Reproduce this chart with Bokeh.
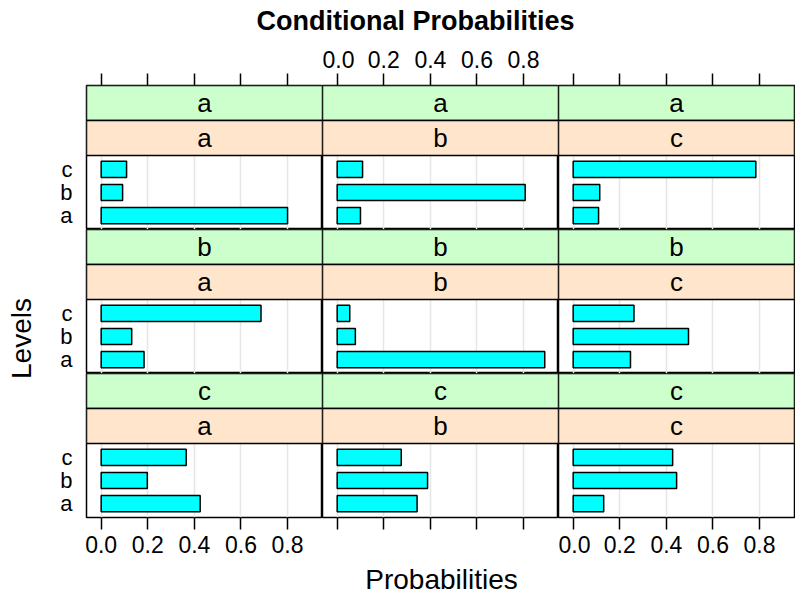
import math
from bokeh.plotting import figure
from bokeh.models import Range1d, LinearAxis, FixedTicker, Grid, NumeralTickFormatter, CustomJSTickFormatter
from bokeh.layouts import column, row
from bokeh.core.properties import value
from bokeh.embed import file_html
from bokeh.resources import INLINE

# ---------------- data ----------------
levels = ["a", "b", "c"]            # y categories inside each panel (bottom to top)
outer_groups = ["a", "b", "c"]      # green strips (rows, top to bottom)
inner_groups = ["a", "b", "c"]      # peach strips (columns, left to right)
x_ticks = [0.0, 0.2, 0.4, 0.6, 0.8]

# probabilities of levels a, b, c for each (outer, inner) combination
prob_a_a = [0.800, 0.092, 0.109]
prob_a_b = [0.100, 0.807, 0.109]
prob_a_c = [0.109, 0.114, 0.784]
prob_b_a = [0.184, 0.131, 0.686]
prob_b_b = [0.891, 0.078, 0.054]
prob_b_c = [0.246, 0.495, 0.261]
prob_c_a = [0.425, 0.198, 0.365]
prob_c_b = [0.343, 0.388, 0.275]
prob_c_c = [0.131, 0.444, 0.427]

table = [
    [prob_a_a, prob_a_b, prob_a_c],
    [prob_b_a, prob_b_b, prob_b_c],
    [prob_c_a, prob_c_b, prob_c_c],
]

# ---------------- style / layout ----------------
FONT = "Liberation Sans"
GREEN = "#CCFFCC"
PEACH = "#FFE5CC"
BAR = "#00FFFF"
GRID = "#E6E6E6"

X_START, X_END = -0.063, 0.95
Y_START, Y_PANEL_END = 0.4, 3.6
FRAME_W, FRAME_H = 236, 144
STRIP_PX = 35.0
PANEL_PX = FRAME_H - 2 * STRIP_PX
unit_px = PANEL_PX / (Y_PANEL_END - Y_START)
strip_u = STRIP_PX / unit_px
Y_END = Y_PANEL_END + 2 * strip_u

LEFT_B, RIGHT_B, TOP_B, BOT_B = 46, 1, 47, 46
TITLE_H, XLAB_H, YLAB_W = 38, 32, 40
TOTAL_W = YLAB_W + LEFT_B + 3 * FRAME_W + RIGHT_B

label_fmt = NumeralTickFormatter(format="0.0")


def blank_fmt():
    return CustomJSTickFormatter(code="return ''")


def style_x_axis(ax):
    ax.axis_line_color = None
    ax.major_tick_line_color = "black"
    ax.major_tick_line_width = 1.5
    ax.major_tick_in = 0
    ax.major_tick_out = 12
    ax.minor_tick_line_color = None
    ax.major_label_text_font = FONT
    ax.major_label_text_font_size = "23px"
    ax.major_label_text_color = "black"
    ax.major_label_standoff = 6


def make_panel(r, c):
    ml = LEFT_B if c == 0 else 0
    mr = RIGHT_B if c == 2 else 0
    mt = TOP_B if r == 0 else 0
    mb = BOT_B if r == 2 else 0
    p = figure(width=FRAME_W + ml + mr, height=FRAME_H + mt + mb,
               x_range=Range1d(X_START, X_END), y_range=Range1d(Y_START, Y_END),
               x_axis_location=None, y_axis_location=None,
               toolbar_location=None, output_backend="svg",
               min_border_left=ml, min_border_right=mr,
               min_border_top=mt, min_border_bottom=mb)
    p.grid.visible = False
    p.outline_line_color = "black"
    p.outline_line_width = 1.5
    p.background_fill_color = "white"
    p.border_fill_color = "white"

    p.add_layout(Grid(dimension=0, ticker=FixedTicker(ticks=x_ticks),
                      grid_line_color=GRID, grid_line_width=1.5))

    if r == 0:
        ax = LinearAxis(ticker=FixedTicker(ticks=x_ticks),
                        formatter=label_fmt if c == 1 else blank_fmt())
        style_x_axis(ax)
        p.add_layout(ax, "above")
    if r == 2:
        ax = LinearAxis(ticker=FixedTicker(ticks=x_ticks),
                        formatter=label_fmt if c != 1 else blank_fmt())
        style_x_axis(ax)
        p.add_layout(ax, "below")
    if c == 0:
        ay = LinearAxis(ticker=FixedTicker(ticks=[1, 2, 3]),
                        major_label_overrides={i + 1: lv for i, lv in enumerate(levels)})
        ay.axis_line_color = None
        ay.major_tick_line_color = None
        ay.minor_tick_line_color = None
        ay.major_tick_in = 0
        ay.major_tick_out = 0
        ay.major_label_standoff = 14
        ay.major_label_text_font = FONT
        ay.major_label_text_font_size = "22px"
        ay.major_label_text_color = "black"
        p.add_layout(ay, "left")

    # strips
    xc = (X_START + X_END) / 2
    p.quad(left=[X_START], right=[X_END], bottom=[Y_PANEL_END + strip_u], top=[Y_END],
           fill_color=GREEN, line_color="black", line_width=1.5)
    p.quad(left=[X_START], right=[X_END], bottom=[Y_PANEL_END], top=[Y_PANEL_END + strip_u],
           fill_color=PEACH, line_color="black", line_width=1.5)
    p.text(x=[xc], y=[Y_PANEL_END + 1.5 * strip_u], text=[outer_groups[r]],
           text_font=value(FONT), text_font_size="26px", text_align="center",
           text_baseline="middle", text_color="black")
    p.text(x=[xc], y=[Y_PANEL_END + 0.5 * strip_u], text=[inner_groups[c]],
           text_font=value(FONT), text_font_size="26px", text_align="center",
           text_baseline="middle", text_color="black")

    # bars
    vals = table[r][c]
    p.hbar(y=[i + 1 for i in range(len(levels))], left=0, right=vals, height=0.7,
           fill_color=BAR, line_color="black", line_width=1.5)
    return p


rows = []
for r in range(3):
    rows.append(row(*[make_panel(r, c) for c in range(3)]))
panels = column(*rows)

COL2_CENTER = YLAB_W + LEFT_B + 1.5 * FRAME_W

# title
tf = figure(width=TOTAL_W, height=TITLE_H, x_range=Range1d(0, TOTAL_W), y_range=Range1d(0, TITLE_H),
            toolbar_location=None, output_backend="svg", min_border=0,
            x_axis_location=None, y_axis_location=None)
tf.grid.visible = False
tf.outline_line_color = None
tf.text(x=[COL2_CENTER - 25], y=[TITLE_H / 2 - 1], text=["Conditional Probabilities"],
        text_font=value(FONT), text_font_style="bold", text_font_size="27px",
        text_align="center", text_baseline="middle", text_color="black")

# y label
YLAB_H = TOP_B + 3 * FRAME_H + BOT_B
yf = figure(width=YLAB_W, height=YLAB_H, x_range=Range1d(0, YLAB_W), y_range=Range1d(0, YLAB_H),
            toolbar_location=None, output_backend="svg", min_border=0,
            x_axis_location=None, y_axis_location=None)
yf.grid.visible = False
yf.outline_line_color = None
yf.text(x=[YLAB_W / 2 + 1], y=[YLAB_H - (338 - TITLE_H)], text=["Levels"], angle=math.pi / 2,
        text_font=value(FONT), text_font_size="28px",
        text_align="center", text_baseline="middle", text_color="black")

# x label
xf = figure(width=TOTAL_W, height=XLAB_H, x_range=Range1d(0, TOTAL_W), y_range=Range1d(0, XLAB_H),
            toolbar_location=None, output_backend="svg", min_border=0,
            x_axis_location=None, y_axis_location=None)
xf.grid.visible = False
xf.outline_line_color = None
xf.text(x=[COL2_CENTER + 1], y=[XLAB_H / 2], text=["Probabilities"],
        text_font=value(FONT), text_font_size="28px",
        text_align="center", text_baseline="middle", text_color="black")

layout = column(tf, row(yf, panels), xf)

open("out.html", "w").write(file_html(layout, INLINE))
